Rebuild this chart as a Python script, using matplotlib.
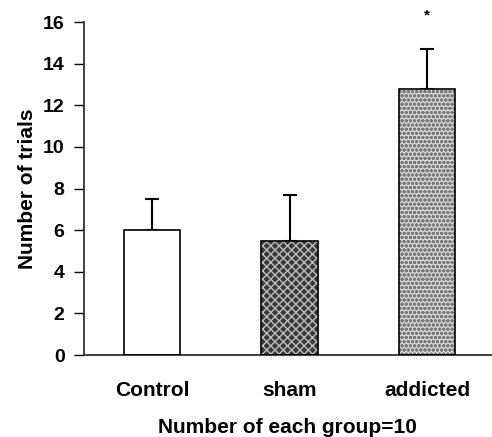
import matplotlib
matplotlib.use("Agg")
import matplotlib.pyplot as plt

plt.rcParams.update({"font.family": ["Liberation Sans", "DejaVu Sans"],
                     "font.weight": "bold", "hatch.linewidth": 1.0})

groups = ["Control", "sham", "addicted"]
means = [6.0, 5.5, 12.8]
sem = [1.5, 2.2, 1.9]
faces = ["white", "#3a3a3a", "#d8d8d8"]
hatches = [None, "xxxx", "oooo"]
hatch_cols = ["black", "#bdbdbd", "#7a7a7a"]

fig = plt.figure(figsize=(4.92, 4.37), dpi=100)
ax = fig.add_axes([0.1707, 0.1876, 0.829, 0.762])

x = range(len(groups))
for i in x:
    ax.bar(i, means[i], width=0.41, color=faces[i], hatch=hatches[i],
           edgecolor=hatch_cols[i], linewidth=0, zorder=2)
    ax.bar(i, means[i], width=0.41, fill=False, edgecolor="black",
           linewidth=1.2, zorder=3)
ax.errorbar(list(x), means, yerr=[[0] * 3, sem], fmt="none", ecolor="black",
            elinewidth=1.5, capsize=5, capthick=1.5, zorder=1)
# significance marker above the addicted group
ax.text(2, 16.3, "*", ha="center", va="center", fontsize=11, clip_on=False)

ax.set_xlim(-0.495, 2.47)
ax.set_ylim(0, 16)
ax.set_yticks(range(0, 17, 2))
ax.set_xticks(list(x))
ax.set_xticklabels(groups, fontsize=15, fontweight="bold")
ax.tick_params(axis="x", length=0, pad=19)
ax.tick_params(axis="y", length=7, width=1, pad=7, labelsize=14)
for lab in ax.get_yticklabels():
    lab.set_fontweight("bold")

for s in ["top", "right"]:
    ax.spines[s].set_visible(False)
for s in ["left", "bottom"]:
    ax.spines[s].set_linewidth(1.3)
    ax.spines[s].set_color("#333333")

ax.set_ylabel("Number of trials", fontsize=15, fontweight="bold", labelpad=4)
ax.set_xlabel("Number of each group=10", fontsize=15, fontweight="bold",
              labelpad=13)

fig.savefig("out.png", dpi=100)
